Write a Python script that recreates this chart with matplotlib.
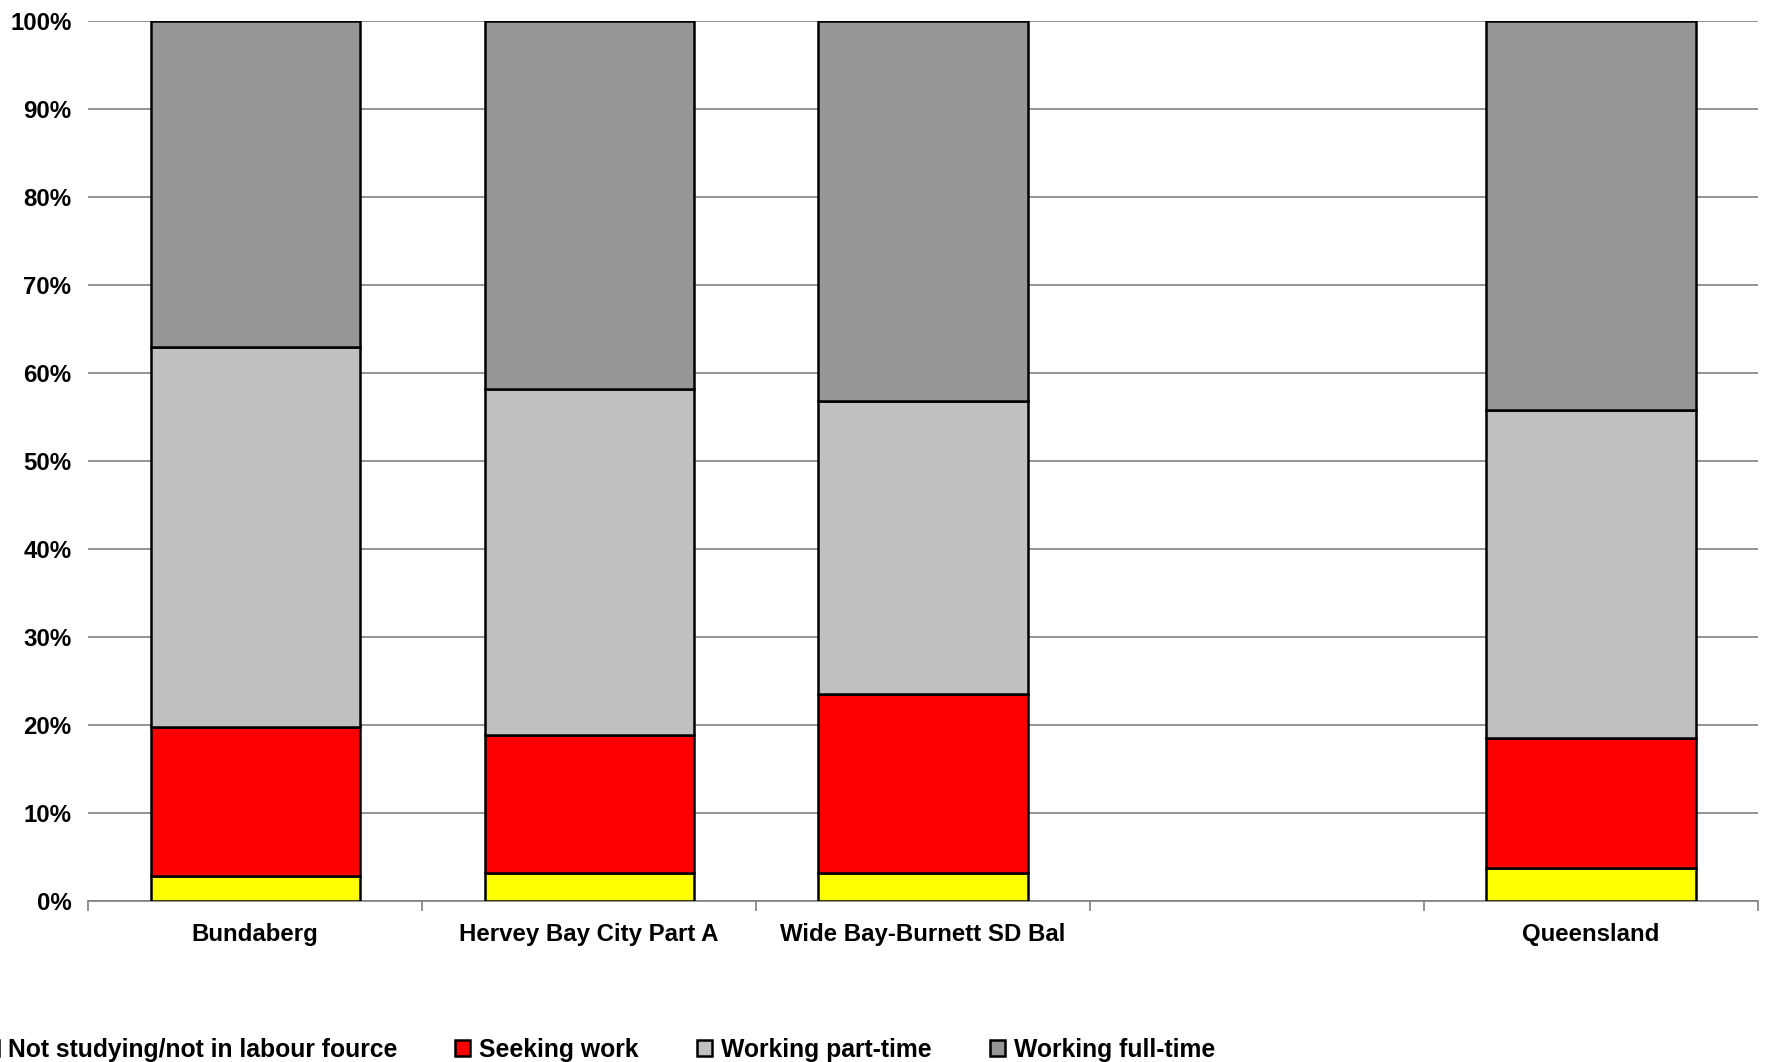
import numpy as np
import matplotlib.pyplot as plt

plt.rcParams['font.family'] = ['Liberation Sans', 'DejaVu Sans']
plt.rcParams['font.weight'] = 'bold'

categories = ['Bundaberg', 'Hervey Bay City Part A', 'Wide Bay-Burnett SD Bal', '', 'Queensland']
series = ['Not studying/not in labour fource', 'Seeking work', 'Working part-time', 'Working full-time']
# shares (%) per category; empty slot has no bar
not_studying = [2.8, 3.1, 3.1, np.nan, 3.7]
seeking = [17.0, 15.7, 20.4, np.nan, 14.8]
part_time = [43.2, 39.4, 33.3, np.nan, 37.3]
full_time = [37.0, 41.8, 43.2, np.nan, 44.2]
colors = ['#FFFF00', '#FF0000', '#C0C0C0', '#969696']

fig = plt.figure(figsize=(17.72, 10.62), dpi=100)
ax = fig.add_axes([0.0497, 0.152, 0.9424, 0.8278])

x = np.arange(len(categories))
bottom = np.zeros(len(categories))
handles = []
for vals, col, lab in zip([not_studying, seeking, part_time, full_time], colors, series):
    v = np.array(vals, dtype=float)
    h = ax.bar(x, v, 0.626, bottom=bottom, color=col, edgecolor='black', linewidth=1.8, label=lab, zorder=3)
    handles.append(h)
    bottom = bottom + np.nan_to_num(v)

ax.set_xlim(-0.5, len(categories) - 0.5)
ax.set_ylim(0, 100)
ax.set_yticks(np.arange(0, 101, 10))
ax.set_yticklabels([f'{t}%' for t in range(0, 101, 10)], fontsize=17.3, fontweight='bold')
ax.yaxis.grid(True, color='#808080', linewidth=1.2, zorder=0)
ax.tick_params(axis='y', length=0, pad=12)

ax.set_xticks(x)
ax.set_xticklabels(categories, fontsize=17.3, fontweight='bold')
ax.set_xticks(np.arange(-0.5, len(categories)), minor=True)
ax.tick_params(axis='x', which='major', length=0, pad=16)
ax.tick_params(axis='x', which='minor', length=7, color='#808080', width=1.2)

for s in ['left', 'right', 'top']:
    ax.spines[s].set_visible(False)
ax.spines['bottom'].set_color('#808080')
ax.spines['bottom'].set_linewidth(1.2)

fig.legend(handles=handles, loc='center left', bbox_to_anchor=(-16 / 1772, 1 - 1050 / 1062),
           ncol=4, frameon=False, prop={'weight': 'bold', 'size': 17.8},
           handlelength=0.6, handleheight=0.6, handletextpad=0.37, columnspacing=2.35,
           borderpad=0, borderaxespad=0)

fig.savefig('out.png', dpi=100)
